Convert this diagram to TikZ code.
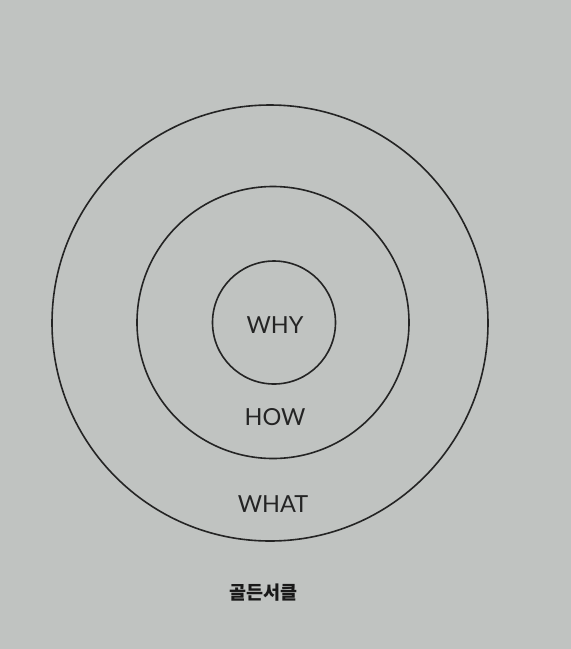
\documentclass[tikz,border=0pt]{standalone}
\usepackage{fontspec}
\setmainfont{Lato}
\newfontfamily\kr{Noto Sans CJK KR}
\definecolor{paper}{RGB}{192,195,193}
\definecolor{ink}{RGB}{36,36,36}
\begin{document}
\begin{tikzpicture}[x=1pt,y=-1pt,
  ring/.style={circle,draw=ink,line width=1.6pt,inner sep=0pt},
  lbl/.style={text=ink,font=\fontsize{23.5}{26}\selectfont,inner sep=0pt}]
\fill[paper] (0,0) rectangle (571,649);
\useasboundingbox (0,0) rectangle (571,649);
\node[ring,minimum size=436pt] (what) at (270,323) {};
\node[ring,minimum size=272pt] (how) at (273,322.5) {};
\node[ring,minimum size=123pt] (why) at (274,322.5) {};
\node[lbl] (lwhy) at (275,325) {WHY};
\node[lbl] (lhow) at (275,417) {HOW};
\node[lbl] (lwhat) at (273,504) {WHAT};
\node[text=black!90,inner sep=0pt,font=\kr\bfseries\fontsize{18.5}{20}\selectfont] (cap) at (263.5,593) {골든서클};
\end{tikzpicture}
\end{document}
